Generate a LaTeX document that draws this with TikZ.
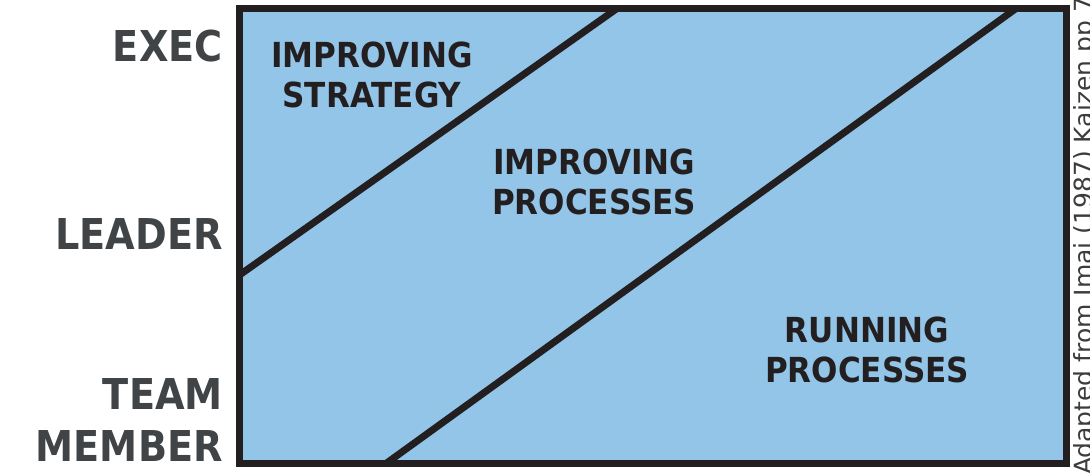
\documentclass[tikz,border=0pt]{standalone}
\usepackage{fontspec}
\setmainfont{DejaVu Sans}[FakeStretch=0.9]
\newfontfamily\notefont{DejaVu Sans}
\usepackage{tikz}
\definecolor{kaiblue}{HTML}{93C5E8}
\definecolor{kailine}{HTML}{231F20}
\definecolor{kaigrey}{HTML}{404446}
\definecolor{kainote}{HTML}{3C3C3C}

\tikzset{
  level/.style={anchor=east, inner sep=0pt, align=right, text=kaigrey,
    font=\bfseries\fontsize{42.5}{52}\selectfont},
  zone/.style={inner sep=0pt, align=center, text=kailine,
    font=\bfseries\fontsize{34.5}{39.5}\selectfont},
  edge/.style={draw=kailine, line width=7pt}
}

\begin{document}
\begin{tikzpicture}[x=1pt, y=-1pt]
\useasboundingbox (0,0) rectangle (1090,473);
% grid box
\coordinate (nw) at (239.5,8.5);
\coordinate (se) at (1066.5,463.5);
\fill[kaiblue] (nw) rectangle (se);
\coordinate (a1) at (239.5,275);
\coordinate (a2) at (617,8.5);
\coordinate (b1) at (386,463.5);
\coordinate (b2) at (1016,8.5);
\draw[edge] (a1) -- (a2);
\draw[edge] (b1) -- (b2);
\draw[edge] (nw) rectangle (se);
% levels
\node[level] (exec) at (223,46) {EXEC};
\node[level] (leader) at (223,234) {LEADER};
\node[level] (team) at (223,420) {TEAM\\MEMBER};
% zones
\node[zone] (strategy) at (372,75) {IMPROVING\\STRATEGY};
\node[zone] (improve) at (594,182) {IMPROVING\\PROCESSES};
\node[zone] (running) at (867,350) {RUNNING\\PROCESSES};
% source
\node[rotate=90, inner sep=0pt, text=kainote, font=\notefont\fontsize{25}{30}\selectfont]
  (source) at (1086,236) {Adapted from Imai (1987) Kaizen pp 7};
\end{tikzpicture}
\end{document}
